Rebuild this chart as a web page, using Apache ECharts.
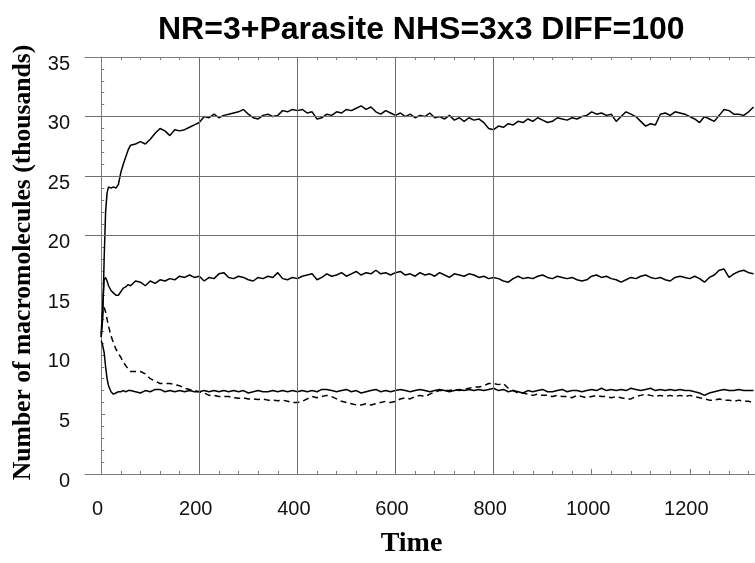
<!DOCTYPE html>
<html><head><meta charset="utf-8">
<script src="https://cdn.jsdelivr.net/npm/echarts@6/dist/echarts.min.js"></script>
<style>html,body{margin:0;padding:0;background:#fff}#c{width:755px;height:563px}</style>
</head><body><div id="c"></div>
<script>
const time = [0,3,6,9,12,15,20,25,30,35,40,45,50,55,60,
70,80,90,100,110,120,130,140,150,160,
170,180,190,200,210,220,230,240,250,260,
270,280,290,300,310,320,330,340,350,360,
370,380,390,400,410,420,430,440,450,460,
470,480,490,500,510,520,530,540,550,560,
570,580,590,600,610,620,630,640,650,660,
670,680,690,700,710,720,730,740,750,760,
770,780,790,800,810,820,830,840,850,860,
870,880,890,900,910,920,930,940,950,960,
970,980,990,1000,1010,1020,1030,1040,1050,1060,
1070,1080,1090,1100,1110,1120,1130,1140,1150,1160,
1170,1180,1190,1200,1210,1220,1230,1240,1250,1260,
1270,1280,1290,1300,1310,1320,1330];

const seriesTop = [11.5,13.0,18.0,22.0,23.6,24.1,24.0,24.1,24.0,24.3,25.3,26.0,26.6,27.2,27.6,
27.7,27.9,27.7,28.1,28.6,29.0,28.8,28.4,28.9,28.8,
28.9,29.1,29.3,29.5,30.0,29.9,30.2,29.9,30.1,30.2,
30.3,30.4,30.6,30.2,29.9,29.8,30.1,30.2,30.0,30.1,
30.5,30.4,30.6,30.5,30.6,30.3,30.4,29.8,29.9,30.2,
30.1,30.4,30.3,30.6,30.5,30.7,30.9,30.6,30.8,30.4,
30.2,30.5,30.3,30.1,30.3,30.0,30.2,29.9,30.1,30.0,
30.3,29.9,30.0,29.8,30.1,29.7,29.9,29.6,29.9,29.7,
29.8,29.5,29.0,28.9,29.2,29.1,29.4,29.3,29.6,29.5,
29.8,29.6,29.9,29.7,29.5,29.6,29.9,29.8,29.7,29.9,
29.8,30.0,30.1,30.4,30.2,30.3,30.1,30.2,29.6,30.0,
30.4,30.2,30.0,29.6,29.2,29.4,29.3,30.2,30.3,30.1,
30.4,30.3,30.2,30.0,29.8,29.5,30.0,29.8,29.6,30.1,
30.6,30.5,30.2,30.2,30.1,30.4,30.8];

const seriesMid = [11.8,14.0,16.3,16.5,16.2,15.8,15.4,15.2,15.0,15.0,15.3,15.6,15.7,15.9,15.8,
16.2,16.1,15.8,16.2,16.0,16.3,16.2,16.4,16.3,16.6,
16.5,16.7,16.5,16.6,16.2,16.5,16.4,16.8,16.9,16.5,
16.4,16.6,16.5,16.3,16.2,16.5,16.4,16.6,16.5,16.9,
16.4,16.3,16.5,16.4,16.6,16.7,16.8,16.3,16.5,16.8,
16.6,16.7,16.9,16.6,16.8,17.0,16.7,16.9,16.8,17.1,
16.8,16.9,16.7,16.9,17.0,16.7,16.8,16.6,16.9,16.7,
16.8,16.6,16.9,16.7,16.5,16.8,16.7,16.6,16.8,16.7,
16.5,16.6,16.4,16.5,16.4,16.2,16.1,16.4,16.6,16.4,
16.5,16.4,16.6,16.7,16.5,16.4,16.6,16.5,16.4,16.5,
16.3,16.2,16.3,16.6,16.7,16.5,16.6,16.4,16.3,16.1,
16.3,16.5,16.4,16.6,16.7,16.5,16.4,16.5,16.3,16.2,
16.5,16.6,16.5,16.4,16.6,16.4,16.1,16.5,16.7,17.1,
17.2,16.5,16.8,17.0,17.1,16.9,16.8];

const seriesLow = [11.2,10.8,10.2,9.0,8.0,7.4,6.9,6.7,6.8,6.9,6.9,7.0,6.9,7.0,7.0,
6.9,6.8,7.0,6.9,7.1,7.1,6.9,7.0,6.9,7.0,
6.9,7.0,6.9,6.9,7.0,6.9,7.0,6.9,7.0,6.9,
7.0,6.9,7.0,6.8,6.9,7.0,6.9,6.9,7.0,6.9,
7.0,6.9,7.0,6.9,7.0,6.9,7.0,6.9,7.1,7.1,
7.0,6.9,7.0,7.1,6.9,7.0,6.8,6.9,7.0,7.1,
6.9,7.0,6.9,7.0,7.1,7.0,6.9,7.0,7.1,7.0,
6.9,7.0,7.1,7.0,6.9,7.0,7.1,7.0,7.1,7.0,
7.1,7.0,7.1,7.2,7.0,7.1,6.9,7.0,6.9,6.8,
7.0,6.9,7.0,7.1,6.9,6.9,7.0,7.1,6.9,7.0,
7.0,6.9,7.0,7.1,7.0,7.2,7.0,7.1,7.0,7.1,
7.0,7.2,7.1,7.0,7.1,7.2,7.0,7.1,7.0,7.1,
7.0,7.1,7.0,7.0,6.9,6.8,6.6,6.8,6.9,7.0,
7.1,7.0,7.0,7.1,7.0,7.0,7.0];

const seriesDashed = [11.5,13.5,14.0,13.6,13.0,12.4,11.6,11.0,10.5,10.1,9.8,9.4,9.1,8.8,8.6,
8.6,8.6,8.4,8.0,7.8,7.6,7.6,7.6,7.5,7.4,
7.2,7.1,7.0,6.9,6.8,6.6,6.6,6.5,6.5,6.5,
6.4,6.35,6.4,6.3,6.3,6.25,6.3,6.2,6.2,6.15,
6.2,6.1,6.0,6.0,6.1,6.3,6.5,6.4,6.5,6.6,
6.5,6.3,6.1,6.0,5.9,5.8,5.8,5.9,5.8,5.9,
6.0,6.1,6.0,6.1,6.3,6.4,6.3,6.5,6.6,6.5,
6.7,6.9,7.0,7.0,7.0,7.1,7.0,7.1,7.2,7.3,
7.3,7.4,7.6,7.6,7.5,7.6,7.2,7.0,6.8,6.8,
6.7,6.6,6.7,6.6,6.6,6.5,6.6,6.5,6.5,6.4,
6.6,6.5,6.4,6.5,6.6,6.5,6.5,6.4,6.5,6.4,
6.3,6.3,6.5,6.6,6.7,6.6,6.5,6.6,6.5,6.6,
6.5,6.6,6.5,6.6,6.5,6.4,6.3,6.2,6.2,6.3,
6.2,6.2,6.1,6.2,6.1,6.1,6.0];

const xTickLabels = [0,200,400,600,800,1000,1200];
const xMinorTicks = [0,40,80,120,160,200,240,280,320,360,400,440,480,520,560,600,640,680,720,760,800,840,880,920,960,1000,1040,1080,1120,1160,1200,1240,1280,1320];
const gridX = [200,400,600,800];
const gridY = [20,25,30];

function pairs(vals){ return time.map((t,i)=>[t, vals[i]]); }

const chart = echarts.init(document.getElementById('c'), null, {renderer:'canvas'});
const axisGray = '#7a7a7a';
const lineBase = {type:'line', showSymbol:false, symbol:'none', xAxisIndex:0, yAxisIndex:0, animation:false, clip:true};

chart.setOption({
  animation:false,
  backgroundColor:'#fff',
  title:{
    text:'NR=3+Parasite NHS=3x3 DIFF=100',
    left:153, top:9,
    textStyle:{fontFamily:'Liberation Sans, Arial, sans-serif', fontWeight:'bold', fontSize:32, color:'#000'}
  },
  grid:{left:85, right:0, top:57, bottom:87, containLabel:false},
  xAxis:[
    {type:'value', position:'bottom', min:-33, max:1333,
     name:'Time', nameLocation:'middle', nameGap:56,
     nameTextStyle:{fontFamily:'Liberation Serif, Times New Roman, serif', fontWeight:'bold', fontSize:28, color:'#000', padding:[0,17,0,0]},
     axisLine:{show:true, lineStyle:{color:axisGray, width:1}},
     axisTick:{show:true, inside:true, length:5, customValues:xTickLabels, lineStyle:{color:axisGray}},
     axisLabel:{show:true, customValues:xTickLabels, margin:25, padding:[0,7,0,0], formatter:function(v){return String(v);},
       fontFamily:'Liberation Sans, Arial, sans-serif', fontSize:20, color:'#111'},
     splitLine:{show:false}},
    {type:'value', position:'bottom', min:-33, max:1333,
     axisLine:{show:false},
     axisTick:{show:true, inside:true, length:3, customValues:xMinorTicks, lineStyle:{color:axisGray}},
     axisLabel:{show:false}, splitLine:{show:false}},
    {type:'value', position:'top', min:-33, max:1333,
     axisLine:{show:true, lineStyle:{color:axisGray, width:1}},
     axisTick:{show:true, inside:true, length:3, customValues:xMinorTicks, lineStyle:{color:axisGray}},
     axisLabel:{show:false}, splitLine:{show:false}}
  ],
  yAxis:[{
    type:'value', min:0, max:35, interval:5, position:'left',
    name:'Number of macromolecules (thousands)', nameLocation:'middle', nameGap:45,
    nameTextStyle:{fontFamily:'Liberation Serif, Times New Roman, serif', fontWeight:'bold', fontSize:25.6, color:'#000', padding:[0,0,0,6]},
    axisLine:{show:true, lineStyle:{color:axisGray, width:1}},
    axisTick:{show:true, inside:true, length:4, lineStyle:{color:axisGray}},
    minorTick:{show:true, splitNumber:5, length:3, lineStyle:{color:axisGray}},
    axisLabel:{margin:15, verticalAlign:'top', lineHeight:14, fontFamily:'Liberation Sans, Arial, sans-serif', fontSize:20, color:'#111'},
    splitLine:{show:false}
  }],
  series:[
    Object.assign({}, lineBase, {name:'top', data:pairs(seriesTop), lineStyle:{color:'#000', width:1.5},
      markLine:{silent:true, symbol:'none', animation:false, label:{show:false},
        lineStyle:{color:'#6e6e6e', width:1, type:'solid'},
        emphasis:{disabled:true},
        data: gridX.map(v=>({xAxis:v})).concat(gridY.map(v=>({yAxis:v})))}}),
    Object.assign({}, lineBase, {name:'mid', data:pairs(seriesMid), lineStyle:{color:'#000', width:1.5}}),
    Object.assign({}, lineBase, {name:'low', data:pairs(seriesLow), lineStyle:{color:'#000', width:1.5}}),
    Object.assign({}, lineBase, {name:'dashed', data:pairs(seriesDashed), lineStyle:{color:'#000', width:1.5, type:[6,4]}})
  ]
});
</script></body></html>
